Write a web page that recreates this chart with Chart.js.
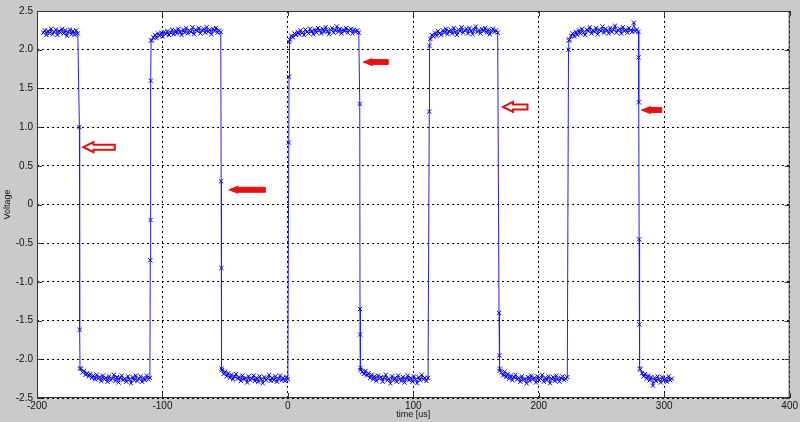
<!DOCTYPE html>
<html>
<head>
<meta charset="utf-8">
<script src="https://cdn.jsdelivr.net/npm/chart.js@4"></script>
<style>
  html, body { margin: 0; padding: 0; background: #cacaca; }
  canvas { display: block; }
</style>
</head>
<body>
<canvas id="grafico" width="800" height="422"></canvas>
<script>
// scope sample clock on the flat parts (us)
const sampleStep = 1.25;

// flat parts: start time and readings
const plateauStart = [-195, -165, -108.5, -52.5, 1.5, 58, 113.5, 169, 224.5, 281];
const high1 = [2.22, 2.25, 2.19, 2.24, 2.21, 2.27, 2.20, 2.23, 2.26, 2.19, 2.24, 2.22, 2.27, 2.21, 2.25, 2.18, 2.23, 2.26, 2.20, 2.24, 2.19, 2.25, 2.21];
const low1 = [-2.12, -2.17, -2.15, -2.20, -2.18, -2.22, -2.19, -2.24, -2.21, -2.26, -2.20, -2.25, -2.23, -2.28, -2.21, -2.26, -2.24, -2.29, -2.22, -2.27, -2.25, -2.20, -2.28, -2.23, -2.30, -2.24, -2.21, -2.27, -2.25, -2.29, -2.22, -2.26, -2.31, -2.23, -2.27, -2.21, -2.28, -2.25, -2.22, -2.29, -2.24, -2.27, -2.21, -2.26, -2.24];
const high2 = [2.12, 2.16, 2.19, 2.15, 2.21, 2.18, 2.22, 2.17, 2.23, 2.20, 2.24, 2.19, 2.22, 2.26, 2.20, 2.25, 2.21, 2.27, 2.23, 2.19, 2.26, 2.22, 2.28, 2.21, 2.25, 2.23, 2.29, 2.20, 2.26, 2.24, 2.28, 2.21, 2.25, 2.27, 2.22, 2.29, 2.23, 2.26, 2.20, 2.27, 2.24, 2.28, 2.22, 2.25, 2.23];
const low2 = [-2.14, -2.19, -2.16, -2.22, -2.18, -2.24, -2.20, -2.26, -2.22, -2.19, -2.25, -2.23, -2.28, -2.21, -2.26, -2.24, -2.30, -2.22, -2.27, -2.25, -2.21, -2.28, -2.24, -2.29, -2.22, -2.26, -2.31, -2.23, -2.27, -2.25, -2.20, -2.28, -2.24, -2.27, -2.22, -2.29, -2.25, -2.21, -2.27, -2.24, -2.28, -2.23, -2.26];
const high3 = [2.13, 2.18, 2.16, 2.21, 2.19, 2.23, 2.20, 2.25, 2.22, 2.19, 2.26, 2.23, 2.21, 2.27, 2.24, 2.20, 2.26, 2.22, 2.28, 2.25, 2.21, 2.27, 2.23, 2.29, 2.24, 2.20, 2.26, 2.28, 2.22, 2.25, 2.30, 2.23, 2.27, 2.21, 2.26, 2.24, 2.28, 2.22, 2.25, 2.27, 2.21, 2.26, 2.23, 2.25, 2.22];
const low3 = [-2.11, -2.16, -2.19, -2.15, -2.21, -2.18, -2.24, -2.20, -2.26, -2.22, -2.28, -2.21, -2.25, -2.23, -2.29, -2.24, -2.20, -2.27, -2.25, -2.31, -2.22, -2.27, -2.24, -2.29, -2.21, -2.26, -2.28, -2.23, -2.30, -2.25, -2.21, -2.27, -2.24, -2.29, -2.22, -2.26, -2.31, -2.23, -2.27, -2.20, -2.26, -2.24, -2.28, -2.24];
const high4 = [2.14, 2.19, 2.17, 2.22, 2.18, 2.24, 2.21, 2.19, 2.25, 2.22, 2.27, 2.20, 2.24, 2.26, 2.21, 2.28, 2.23, 2.19, 2.26, 2.24, 2.29, 2.22, 2.25, 2.27, 2.21, 2.28, 2.24, 2.20, 2.26, 2.30, 2.23, 2.25, 2.21, 2.27, 2.24, 2.28, 2.22, 2.26, 2.20, 2.25, 2.27, 2.23, 2.25, 2.22];
const low4 = [-2.12, -2.17, -2.21, -2.16, -2.23, -2.19, -2.25, -2.21, -2.27, -2.23, -2.20, -2.26, -2.24, -2.29, -2.22, -2.27, -2.25, -2.31, -2.23, -2.28, -2.21, -2.26, -2.24, -2.30, -2.22, -2.27, -2.25, -2.20, -2.29, -2.24, -2.27, -2.22, -2.31, -2.25, -2.23, -2.28, -2.21, -2.26, -2.29, -2.24, -2.22, -2.27, -2.25, -2.23];
const high5 = [2.13, 2.18, 2.21, 2.17, 2.23, 2.19, 2.25, 2.21, 2.27, 2.22, 2.19, 2.26, 2.24, 2.29, 2.21, 2.25, 2.23, 2.28, 2.20, 2.26, 2.24, 2.30, 2.22, 2.27, 2.25, 2.21, 2.28, 2.23, 2.26, 2.31, 2.22, 2.25, 2.27, 2.21, 2.29, 2.24, 2.26, 2.22, 2.28, 2.25, 2.23, 2.35, 2.24, 2.26, 2.23];
const low5 = [-2.13, -2.18, -2.22, -2.19, -2.25, -2.21, -2.27, -2.23, -2.34, -2.24, -2.28, -2.22, -2.26, -2.30, -2.23, -2.27, -2.25, -2.29, -2.22, -2.27, -2.25];
const plateaus = [high1, low1, high2, low2, high3, low3, high4, low4, high5, low5];

// samples caught on the edges after each flat part
const edgeTimes = [
  [-166.2, -166, -165.7],
  [-109.7, -109.5, -109.3, -109],
  [-53.2, -53, -52.8],
  [0.7, 0.9, 1.1],
  [57.3, 57.5, 57.6, 57.8],
  [112.7, 112.9],
  [168.3, 168.5, 168.7],
  [223.7, 223.9],
  [279.6, 279.8, 280, 280.2, 280.5],
  []
];
const edgeVolts = [
  [1.0, -1.62, -2.12],
  [-0.72, -0.2, 1.6, 2.12],
  [0.3, -0.82, -2.12],
  [0.8, 1.65, 2.1],
  [1.3, -1.35, -1.68, -2.14],
  [1.2, 2.05],
  [-1.4, -1.95, -2.15],
  [2.0, 2.12],
  [1.9, 1.32, -0.45, -1.55, -2.12],
  []
];

// red arrows (data units): tip x, tail x, y, hollow or filled
const arrowTipX = [-163, -47, 60, 171.5, 281.8];
const arrowTailX = [-138, -18, 80, 191, 298];
const arrowY = [0.74, 0.19, 1.84, 1.26, 1.22];
const arrowHollow = [true, false, false, true, false];

const xTicks = [-200, -100, 0, 100, 200, 300, 400];
const yTicks = [-2.5, -2, -1.5, -1, -0.5, 0, 0.5, 1, 1.5, 2, 2.5];

const pontos = [];
plateaus.forEach((vals, i) => {
  vals.forEach((v, k) => pontos.push({ x: plateauStart[i] + k * sampleStep, y: v }));
  edgeTimes[i].forEach((t, k) => pontos.push({ x: t, y: edgeVolts[i][k] }));
});

// box, inner ticks and arrows, drawn like the MATLAB axes
const extras = {
  id: 'extras',
  beforeDraw(chart) {
    const { ctx, chartArea: a } = chart;
    ctx.save();
    ctx.fillStyle = '#cacaca';
    ctx.fillRect(0, 0, chart.width, chart.height);
    ctx.fillStyle = '#ffffff';
    ctx.fillRect(a.left, a.top, a.right - a.left, a.bottom - a.top);
    ctx.restore();
  },
  afterDatasetsDraw(chart) {
    const { ctx, chartArea: a, scales } = chart;
    const sx = scales.x, sy = scales.y;
    ctx.save();
    ctx.strokeStyle = '#333';
    ctx.lineWidth = 1;
    ctx.strokeRect(a.left + 0.5, a.top + 0.5, a.right - a.left - 1, a.bottom - a.top - 1);
    ctx.beginPath();
    xTicks.forEach(t => {
      const px = Math.round(sx.getPixelForValue(t)) + 0.5;
      ctx.moveTo(px, a.bottom); ctx.lineTo(px, a.bottom - 5);
      ctx.moveTo(px, a.top); ctx.lineTo(px, a.top + 5);
    });
    yTicks.forEach(t => {
      const py = Math.round(sy.getPixelForValue(t)) + 0.5;
      ctx.moveTo(a.left, py); ctx.lineTo(a.left + 5, py);
      ctx.moveTo(a.right, py); ctx.lineTo(a.right - 5, py);
    });
    ctx.stroke();

    arrowTipX.forEach((tx, i) => {
      const x0 = sx.getPixelForValue(tx);
      const x1 = sx.getPixelForValue(arrowTailX[i]);
      const y = sy.getPixelForValue(arrowY[i]);
      const hollow = arrowHollow[i];
      const head = hollow ? 10 : 9;
      const hh = hollow ? 5 : 3.5;
      const bh = 2.5;
      ctx.beginPath();
      ctx.moveTo(x0, y);
      ctx.lineTo(x0 + head, y - hh);
      ctx.lineTo(x0 + head, y - bh);
      ctx.lineTo(x1, y - bh);
      ctx.lineTo(x1, y + bh);
      ctx.lineTo(x0 + head, y + bh);
      ctx.lineTo(x0 + head, y + hh);
      ctx.closePath();
      if (hollow) {
        ctx.fillStyle = '#ffffff';
        ctx.fill();
        ctx.strokeStyle = '#e01010';
        ctx.lineWidth = 2;
        ctx.stroke();
      } else {
        ctx.fillStyle = '#e81010';
        ctx.fill();
        ctx.strokeStyle = '#e81010';
        ctx.lineWidth = 1;
        ctx.stroke();
      }
    });
    ctx.restore();
  }
};

const ctx = document.getElementById('grafico').getContext('2d');

let grafico = new Chart(ctx, {
  type: 'line',
  data: {
    datasets: [{
      data: pontos,
      borderColor: '#2020ff',
      backgroundColor: '#0000ff',
      borderWidth: 1,
      pointStyle: 'crossRot',
      pointRadius: 3,
      pointBorderWidth: 1,
      pointBorderColor: '#0000ff',
      tension: 0,
      fill: false
    }]
  },
  options: {
    responsive: false,
    animation: false,
    devicePixelRatio: 1,
    layout: { padding: { top: 11, right: 10, left: 0, bottom: 0 } },
    plugins: {
      legend: { display: false },
      tooltip: { enabled: false }
    },
    scales: {
      x: {
        type: 'linear',
        min: -200,
        max: 400,
        afterBuildTicks: s => { s.ticks = xTicks.map(v => ({ value: v })); },
        afterFit: s => { s.height = 24; },
        ticks: {
          color: '#111',
          padding: 2,
          maxRotation: 0,
          font: { family: 'Liberation Sans, Arial', size: 10 }
        },
        grid: { color: '#000', lineWidth: 1, drawTicks: false },
        border: { display: false, dash: [2, 3] },
        title: {
          display: true,
          text: 'time [us]',
          color: '#111',
          padding: { top: 0, bottom: 2 },
          font: { family: 'Liberation Sans, Arial', size: 9 }
        }
      },
      y: {
        min: -2.5,
        max: 2.5,
        afterBuildTicks: s => { s.ticks = yTicks.map(v => ({ value: v })); },
        afterFit: s => { s.width = 37; },
        ticks: {
          color: '#111',
          padding: 4,
          font: { family: 'Liberation Sans, Arial', size: 10 }
        },
        grid: { color: '#000', lineWidth: 1, drawTicks: false },
        border: { display: false, dash: [2, 3] },
        title: {
          display: true,
          text: 'Voltage',
          color: '#111',
          padding: { top: 2, bottom: 0 },
          font: { family: 'Liberation Sans, Arial', size: 9 }
        }
      }
    }
  },
  plugins: [extras]
});
</script>
</body>
</html>
